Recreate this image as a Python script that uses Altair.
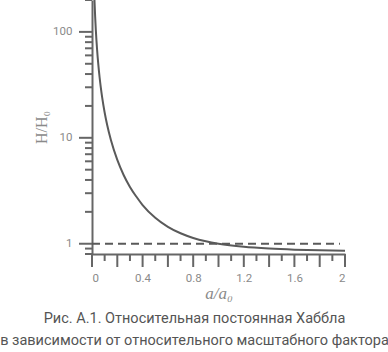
import altair as alt
import pandas as pd

# curve
a_vals = [0.018, 0.02, 0.025, 0.03, 0.035, 0.04, 0.05, 0.06, 0.07, 0.08, 0.1, 0.12, 0.15, 0.2, 0.25, 0.3,
          0.35, 0.4, 0.5, 0.6, 0.7, 0.8, 0.9, 1.0, 1.2, 1.4, 1.6, 1.8, 2.0]
h_vals = [226.8, 193.6, 138.6, 105.4, 83.6, 68.5, 49.0, 37.3, 29.6, 24.2, 17.34, 13.2, 9.47, 6.18, 4.46, 3.44,
          2.79, 2.32, 1.76, 1.445, 1.255, 1.134, 1.054, 1.0, 0.935, 0.900, 0.879, 0.867, 0.859]

x_major = [0, 0.2, 0.4, 0.6, 0.8, 1, 1.2, 1.4, 1.6, 1.8, 2]
x_minor = [0.1, 0.3, 0.5, 0.7, 0.9, 1.1, 1.3, 1.5, 1.7, 1.9]
y_major = [1, 10, 100]
y_minor = [0.8, 0.9, 2, 3, 4, 5, 6, 7, 8, 9, 20, 30, 40, 50, 60, 70, 80, 90, 200]

ref_level = [1.0]
ref_start = [0.0]
ref_end = [1.96]

caption = ["Рис. А.1. Относительная постоянная Хаббла",
           "в зависимости от относительного масштабного фактора"]

W, H = 253, 254

df = pd.DataFrame({"a": a_vals, "h": h_vals})
ref = pd.DataFrame({"a": ref_start, "a2": ref_end, "h": ref_level})
xmaj = pd.DataFrame({"a": x_major})
xmin = pd.DataFrame({"a": x_minor})
ymaj = pd.DataFrame({"h": y_major})
ymin = pd.DataFrame({"h": y_minor})

AX = "#666666"
LAB = "#8a8a8a"

xs = alt.Scale(domain=[0, 2], nice=False, zero=False)
ys = alt.Scale(type="log", domain=[0.8, 200], nice=False)

x_axis = alt.Axis(orient="bottom", values=x_major, format="~g", ticks=False,
                  domainColor=AX, domainWidth=2, labelColor=LAB, labelFontSize=11.5,
                  labelFont="Roboto", labelPadding=18, grid=False, labelOverlap=False,
                  title="a/a₀", titleFont="Liberation Serif", titleFontStyle="italic",
                  titleFontWeight="normal", titleFontSize=17, titleColor=LAB, titlePadding=2)
y_axis = alt.Axis(orient="left", values=y_major, format="d", ticks=False,
                  domainColor=AX, domainWidth=2, labelColor=LAB, labelFontSize=11.5,
                  labelFont="Roboto", labelPadding=20, grid=False, labelOverlap=False,
                  title="H/H₀", titleFont="Liberation Serif", titleFontWeight="normal",
                  titleFontSize=16, titleColor=LAB, titlePadding=3)

curve = alt.Chart(df).mark_line(color="#5a5a5a", strokeWidth=2, clip=True, interpolate="monotone").encode(
    x=alt.X("a:Q", scale=xs, axis=x_axis),
    y=alt.Y("h:Q", scale=ys, axis=y_axis),
)

dash = alt.Chart(ref).mark_rule(color="#5a5a5a", strokeWidth=2, strokeDash=[8, 5]).encode(
    x=alt.X("a:Q", scale=xs), x2="a2:Q", y=alt.Y("h:Q", scale=ys)
)

def xticks(d, length):
    return alt.Chart(d).mark_rule(color=AX, strokeWidth=2).encode(
        x=alt.X("a:Q", scale=xs), y=alt.value(H), y2=alt.value(H + length))

def yticks(d, length):
    return alt.Chart(d).mark_rule(color=AX, strokeWidth=2).encode(
        y=alt.Y("h:Q", scale=ys), x=alt.value(0), x2=alt.value(-length))

chart = alt.layer(curve, dash, xticks(xmaj, 13), xticks(xmin, 7), yticks(ymaj, 13), yticks(ymin, 7)).properties(
    width=W, height=H,
    autosize=alt.AutoSizeParams(type="none"),
    padding={"left": 92, "top": 0, "right": 43, "bottom": 98},
    title=alt.TitleParams(text=caption, orient="bottom", anchor="middle", dx=-24,
                          font="Roboto", fontSize=14.5, fontWeight="normal", color="#555555",
                          lineHeight=22, offset=10),
).configure_view(stroke=None)

chart.save("out.html", embed_options={"renderer": "svg", "actions": False})
